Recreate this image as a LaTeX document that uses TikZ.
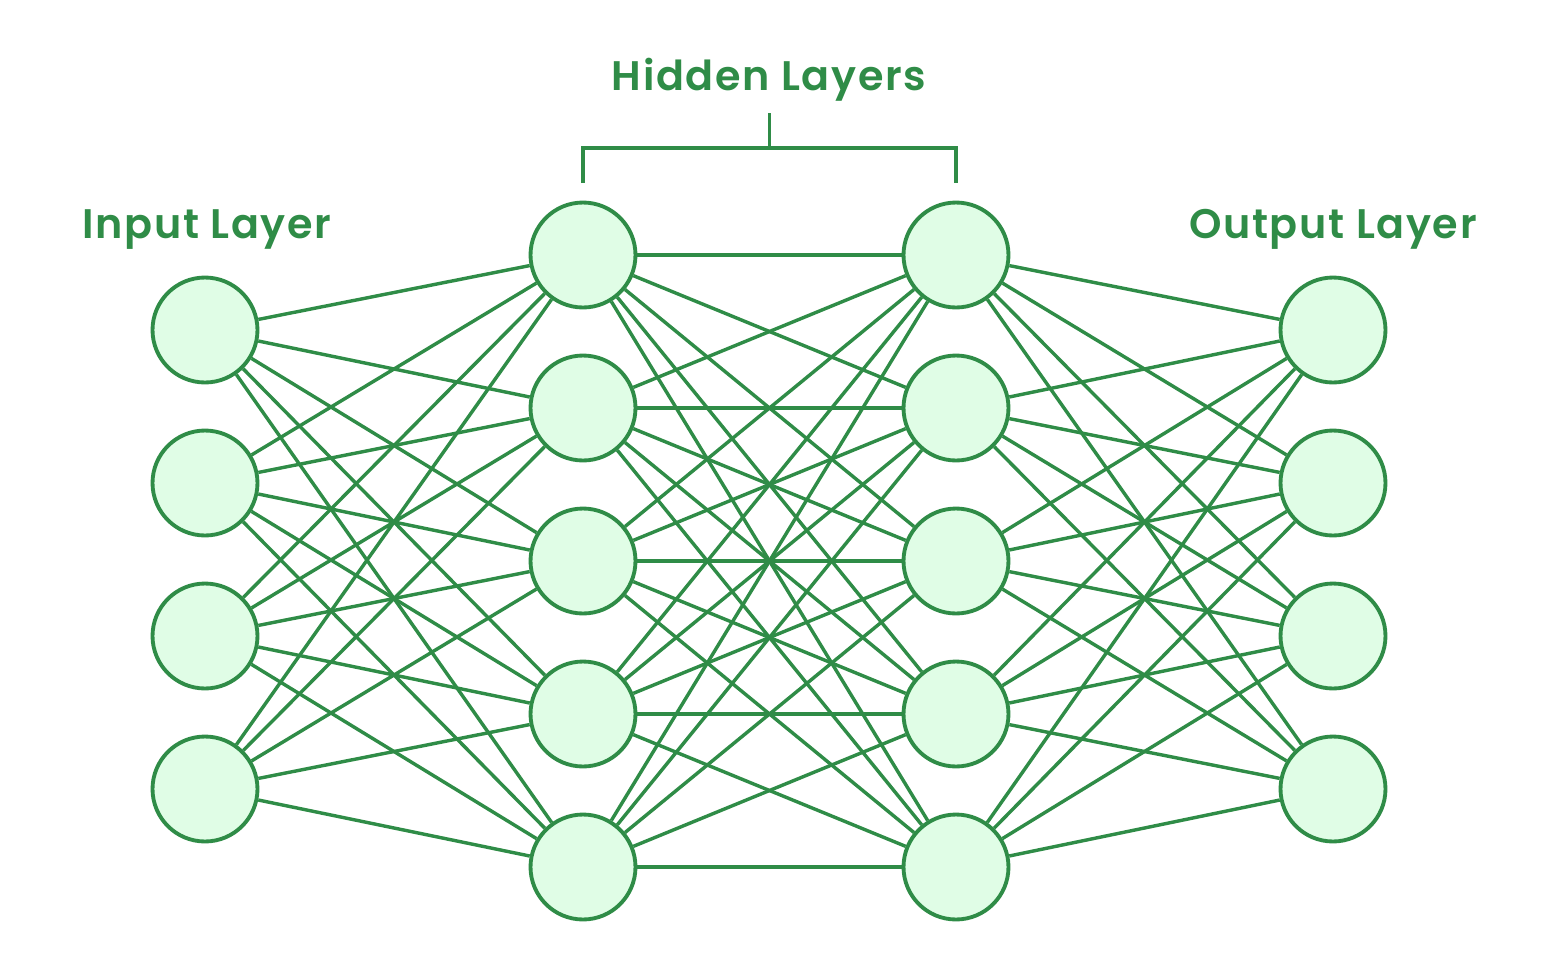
\documentclass[tikz,border=0pt]{standalone}
\usepackage{fontspec}
\setmainfont{Poppins}
\newfontfamily\labelfont{Poppins SemiBold}[LetterSpace=4]
\usepackage{tikz}
\usetikzlibrary{calc,positioning}
\definecolor{netgreen}{HTML}{2F8C47}
\definecolor{cellfill}{HTML}{E0FDE6}
\tikzset{
  neuron/.style={circle,draw=netgreen,fill=cellfill,line width=2.2pt,minimum size=2.1cm,inner sep=0pt},
  link/.style={draw=netgreen,line width=1.95pt},
  layername/.style={text=netgreen,font=\labelfont\fontsize{23.5}{27}\selectfont,anchor=base}
}

\begin{document}
\begin{tikzpicture}[x=0.02cm,y=-0.02cm]
  \useasboundingbox (0,0) rectangle (1560,968);
  % neurons
  \foreach \i/\y in {1/330,2/483,3/636,4/789}{
    \node[neuron] (in\i) at (205,\y) {};
    \node[neuron] (out\i) at (1333,\y) {};
  }
  \foreach \i/\y in {1/255,2/408,3/561,4/714,5/867}{
    \node[neuron] (ha\i) at (583,\y) {};
    \node[neuron] (hb\i) at (956,\y) {};
  }
  % connections
  \foreach \i in {1,...,4}
    \foreach \j in {1,...,5}{
      \draw[link] (in\i) -- (ha\j);
      \draw[link] (hb\j) -- (out\i);
    }
  \foreach \i in {1,...,5}
    \foreach \j in {1,...,5}
      \draw[link] (ha\i) -- (hb\j);
  % labels
  \node[layername] (inlabel) at (207,238) {Input Layer};
  \node[layername] (outlabel) at (1333,238) {Output Layer};
  \node[layername] (hidlabel) at (769,90) {Hidden Layers};
  % bracket
  \coordinate (brkmid) at ($(ha1)!0.5!(hb1)+(0,-107)$);
  \draw[link,line width=2pt] ($(ha1)+(0,-72)$) |- (brkmid) -| ($(hb1)+(0,-72)$);
  \draw[link,line width=2pt] (brkmid) -- ++(0,-35);
\end{tikzpicture}
\end{document}
